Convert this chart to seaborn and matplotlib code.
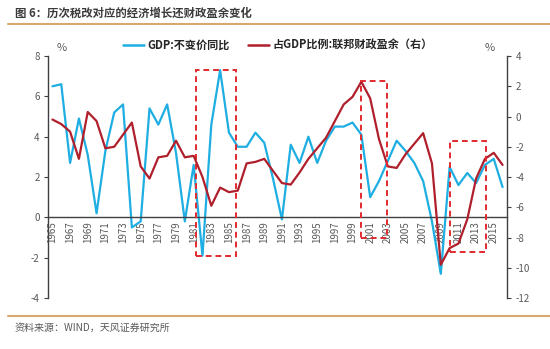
import numpy as np
import pandas as pd
import seaborn as sns
import matplotlib
matplotlib.use("Agg")
import matplotlib.pyplot as plt
from matplotlib.patches import Rectangle
from matplotlib.lines import Line2D

# ---------------- data ----------------
years = list(range(1965, 2017))
gdp_growth = [6.5, 6.6, 2.7, 4.9, 3.1, 0.2, 3.3, 5.2, 5.6, -0.5,
              -0.2, 5.4, 4.6, 5.6, 3.2, -0.2, 2.6, -1.9, 4.6, 7.3,
              4.2, 3.5, 3.5, 4.2, 3.7, 1.9, -0.1, 3.6, 2.7, 4.0,
              2.7, 3.8, 4.5, 4.5, 4.7, 4.1, 1.0, 1.8, 2.8, 3.8,
              3.3, 2.7, 1.8, -0.2, -2.8, 2.5, 1.6, 2.2, 1.7, 2.6,
              2.9, 1.5]
surplus_pct = [-0.2, -0.5, -1.0, -2.8, 0.3, -0.3, -2.1, -2.0, -1.2, -0.4,
               -3.3, -4.1, -2.7, -2.6, -1.6, -2.7, -2.6, -4.0, -5.9, -4.7,
               -5.0, -4.9, -3.1, -3.0, -2.8, -3.6, -4.4, -4.5, -3.7, -2.8,
               -2.1, -1.4, -0.3, 0.8, 1.3, 2.3, 1.2, -1.5, -3.3, -3.4,
               -2.5, -1.8, -1.1, -3.1, -9.8, -8.7, -8.4, -6.8, -4.1, -2.8,
               -2.4, -3.2]
year_labels = [str(y) if (y - 1965) % 2 == 0 else "" for y in years]
left_ticks = [-4, -2, 0, 2, 4, 6, 8]
right_ticks = [-12, -10, -8, -6, -4, -2, 0, 2, 4]
label_gdp = "GDP:不变价同比"
label_surplus = "占GDP比例:联邦财政盈余（右）"
title = "图 6：历次税改对应的经济增长还财政盈余变化"
source = "资料来源：WIND，天风证券研究所"

df = pd.DataFrame({"idx": np.arange(len(years)), "gdp": gdp_growth, "surplus": surplus_pct})

# ---------------- style ----------------
sns.set_theme(style="white")
plt.rcParams['font.family'] = ['Noto Sans CJK SC', 'DejaVu Sans']

BLUE = "#1eaee2"
RED = "#b01f2c"
BOX = "#e22a2e"
GRAY = "#595959"
LINE = "#d9a870"

fig = plt.figure(figsize=(5.5, 3.49), dpi=100)
fig.patch.set_facecolor("white")
ax = fig.add_axes([0.0873, 0.1461, 0.9218 - 0.0873, 0.8395 - 0.1461])
ax2 = ax.twinx()

sns.lineplot(data=df, x="idx", y="gdp", ax=ax, color=BLUE, linewidth=1.6)
sns.lineplot(data=df, x="idx", y="surplus", ax=ax2, color=RED, linewidth=1.6)

n = len(years)
ax.set_xlim(-0.5, n - 0.5)
ax.set_ylim(-4, 8)
ax2.set_ylim(-12, 4)

ax.set_yticks(left_ticks)
ax.set_yticklabels([str(v) for v in left_ticks])
ax2.set_yticks(right_ticks)
ax2.set_yticklabels([str(v) for v in right_ticks])

for a in (ax, ax2):
    a.set_xlabel("")
    a.set_ylabel("")
    a.spines["top"].set_visible(False)
    a.set_facecolor("none")
    a.grid(False)

ax.set_xticks(np.arange(n))
ax.set_xticklabels(year_labels)
ax.set_xticks(np.arange(-0.5, n, 2), minor=True)
ax.tick_params(axis="x", which="major", length=0, pad=3, labelsize=7, labelcolor=GRAY, labelrotation=90)
ax.tick_params(axis="x", which="minor", length=3, width=0.8, color="#404040", direction="out")
ax2.tick_params(axis="x", which="both", bottom=False, labelbottom=False, top=False, labeltop=False)

ax.tick_params(axis="y", labelsize=7, labelcolor=GRAY, color="#404040", length=3, width=0.8,
               direction="out", pad=3)
ax2.tick_params(axis="y", labelsize=7, labelcolor=GRAY, color="#404040", length=3, width=0.8,
                direction="out", pad=3)

ax.spines["bottom"].set_position(("data", 0))
ax.spines["bottom"].set_color("#404040")
ax.spines["bottom"].set_linewidth(1.0)
ax2.spines["bottom"].set_visible(False)
ax.spines["left"].set_color("#404040")
ax.spines["left"].set_linewidth(1.0)
ax.spines["right"].set_visible(False)
ax2.spines["left"].set_visible(False)
ax2.spines["right"].set_color("#404040")
ax2.spines["right"].set_linewidth(1.0)

# dashed highlight boxes (index coords, axis-value coords)
box1 = dict(x0=16.25, x1=20.8, y0=-1.93, y1=7.3)        # left axis
box2 = dict(x0=35.0, x1=37.85, y0=-8.05, y1=2.33)       # right axis
box3 = dict(x0=45.0, x1=49.1, y0=-8.97, y1=-1.59)       # right axis
for a, b in ((ax, box1), (ax2, box2), (ax2, box3)):
    a.add_patch(Rectangle((b["x0"], b["y0"]), b["x1"] - b["x0"], b["y1"] - b["y0"],
                          fill=False, edgecolor=BOX, linewidth=1.4,
                          linestyle=(0, (3, 2)), zorder=5, clip_on=False))

# percent labels
fig.text(62 / 550, 1 - 48 / 349, "%", fontsize=8, color=GRAY, ha="center", va="center")
fig.text(490 / 550, 1 - 48 / 349, "%", fontsize=8, color=GRAY, ha="center", va="center")

# legend
handles = [Line2D([0], [0], color=BLUE, lw=1.8), Line2D([0], [0], color=RED, lw=1.8)]
fig.legend(handles, [label_gdp, label_surplus], loc="center", bbox_to_anchor=(278 / 550, 1 - 45 / 349),
           ncol=2, frameon=False, handlelength=1.9, handletextpad=0.3, columnspacing=1.6,
           prop={"weight": "bold", "size": 8})

# title, rules, source
fig.text(15 / 550, 1 - 13 / 349, title, fontsize=8.2, color="#3a3a3a", ha="left", va="center", weight="bold")
fig.add_artist(Line2D([8 / 550, 1.0], [1 - 24 / 349] * 2, color=LINE, lw=1.5, transform=fig.transFigure))
fig.add_artist(Line2D([8 / 550, 1.0], [1 - 316 / 349] * 2, color=LINE, lw=1.5, transform=fig.transFigure))
fig.text(15 / 550, 1 - 328 / 349, source, fontsize=7.2, color=GRAY, ha="left", va="center")

fig.savefig("out.png", dpi=100, facecolor="white")
